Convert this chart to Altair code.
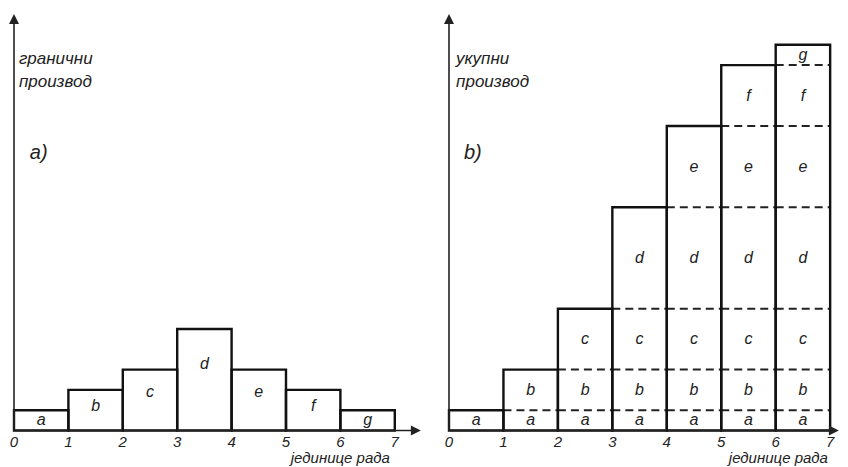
import altair as alt
import pandas as pd
import numpy as np

# ---- data ----
letters = ["a", "b", "c", "d", "e", "f", "g"]
marginal_a = [1, 2, 3, 5, 3, 2, 1]          # panel a) bar heights
increments_b = [1, 2, 3, 5, 4, 3, 1]        # panel b) stacked increments
tick_labels = ["0", "1", "2", "3", "4", "5", "6", "7"]
y_title_a = ["гранични", "производ"]
y_title_b = ["укупни", "производ"]
x_title = "јединице рада"
panel_tags = ["а)", "b)"]

FONT = "Liberation Sans"
W_A, W_B, H = 416, 416, 459
Y_DOM = [-1.798, 20.813]
XA_DOM = [-0.1103, 7.537]
XB_DOM = [-0.4591, 7.181]


def sx(dom):
    return alt.Scale(domain=dom, nice=False, zero=False)


YS = alt.Scale(domain=Y_DOM, nice=False, zero=False)


def axes_layers(xdom, x_tip, title_lines, tag, tag_x, title_x, xt_right):
    X = lambda f: alt.X(f, scale=sx(xdom), axis=None)
    layers = []
    # y axis line
    layers.append(
        alt.Chart(pd.DataFrame({"a": [0]})).mark_rule(color="#222", strokeWidth=1.6).encode(
            x=alt.X("x:Q", scale=sx(xdom), axis=None),
            y=alt.Y("y0:Q", scale=YS, axis=None), y2="y1:Q"
        ).transform_calculate(x="0", y0="0", y1="20.3")
    )
    # x axis line
    layers.append(
        alt.Chart(pd.DataFrame({"a": [0]})).mark_rule(color="#222", strokeWidth=1.6).encode(
            x=alt.X("x0:Q", scale=sx(xdom), axis=None), x2="x1:Q",
            y=alt.Y("y:Q", scale=YS, axis=None)
        ).transform_calculate(x0="0", x1=str(x_tip - 0.15), y="0")
    )
    # arrowheads
    layers.append(
        alt.Chart(pd.DataFrame({"x": [0.0], "y": [20.52]})).mark_point(
            shape="M0,0 L-1,2 L1,2 Z", filled=True, size=100, opacity=1, color="#222", strokeWidth=0
        ).encode(x=X("x:Q"), y=alt.Y("y:Q", scale=YS, axis=None))
    )
    layers.append(
        alt.Chart(pd.DataFrame({"x": [x_tip], "y": [0.0]})).mark_point(
            shape="M0,0 L-2,-1 L-2,1 Z", filled=True, size=100, opacity=1, color="#222", strokeWidth=0
        ).encode(x=X("x:Q"), y=alt.Y("y:Q", scale=YS, axis=None))
    )
    # tick labels
    tdf = pd.DataFrame({"x": [float(t) for t in tick_labels], "t": tick_labels})
    layers.append(
        alt.Chart(tdf).mark_text(font=FONT, fontStyle="italic", fontSize=15, color="#222",
                                 baseline="middle", align="center").encode(
            x=X("x:Q"), y=alt.Y("y:Q", scale=YS, axis=None), text="t:N"
        ).transform_calculate(y="-0.56")
    )
    # x title
    layers.append(
        alt.Chart(pd.DataFrame({"x": [xt_right], "y": [-1.60], "t": [x_title]})).mark_text(
            font=FONT, fontStyle="italic", fontSize=15, color="#222", align="right",
            baseline="alphabetic"
        ).encode(x=X("x:Q"), y=alt.Y("y:Q", scale=YS, axis=None), text="t:N")
    )
    # y title (two lines)
    ydf = pd.DataFrame({"x": [title_x, title_x], "y": [18.3, 17.17], "t": title_lines})
    layers.append(
        alt.Chart(ydf).mark_text(font=FONT, fontStyle="italic", fontSize=17, color="#222",
                                 align="left", baseline="middle").encode(
            x=X("x:Q"), y=alt.Y("y:Q", scale=YS, axis=None), text="t:N"
        )
    )
    # panel tag
    layers.append(
        alt.Chart(pd.DataFrame({"x": [tag_x], "y": [13.65], "t": [tag]})).mark_text(
            font=FONT, fontStyle="italic", fontSize=20, color="#222", align="left", baseline="middle"
        ).encode(x=X("x:Q"), y=alt.Y("y:Q", scale=YS, axis=None), text="t:N")
    )
    return layers


# ---- panel a ----
df_a = pd.DataFrame({
    "x0": np.arange(7), "x1": np.arange(7) + 1,
    "v": marginal_a, "l": letters,
})
df_a["ly"] = 0.7 * df_a["v"] - 0.2
df_a["xm"] = df_a["x0"] + 0.5

bars_a = alt.Chart(df_a).mark_rect(fill="white", fillOpacity=0, stroke="#111", strokeWidth=2.4).encode(
    x=alt.X("x0:Q", scale=sx(XA_DOM), axis=None), x2="x1:Q",
    y=alt.Y("y0:Q", scale=YS, axis=None), y2="v:Q"
).transform_calculate(y0="0")

lab_a = alt.Chart(df_a).mark_text(font=FONT, fontStyle="italic", fontSize=16, color="#222",
                                  baseline="middle").encode(
    x=alt.X("xm:Q", scale=sx(XA_DOM), axis=None),
    y=alt.Y("ly:Q", scale=YS, axis=None), text="l:N"
)

panel_a = alt.layer(
    bars_a, lab_a,
    *axes_layers(XA_DOM, 7.48, y_title_a, panel_tags[0], 0.29, 0.09, 6.91)
).properties(width=W_A, height=H)

# ---- panel b ----
cum = np.cumsum(increments_b)
cols = pd.DataFrame({"x0": np.arange(7), "x1": np.arange(7) + 1, "top": cum})

seg_rows, dash_rows = [], []
for i in range(7):
    for j in range(i + 1):
        seg_rows.append({"xm": i + 0.5, "ym": cum[j] - increments_b[j] / 2, "l": letters[j]})
        if j < i:
            dash_rows.append({"x0": i, "x1": i + 1, "y": cum[j]})
segs = pd.DataFrame(seg_rows)
dashes = pd.DataFrame(dash_rows)

dash_b = alt.Chart(dashes).mark_rule(color="#222", strokeWidth=2, strokeDash=[8, 5]).encode(
    x=alt.X("x0:Q", scale=sx(XB_DOM), axis=None), x2="x1:Q",
    y=alt.Y("y:Q", scale=YS, axis=None)
)
cols_b = alt.Chart(cols).mark_rect(fill="white", fillOpacity=0, stroke="#111", strokeWidth=2.4).encode(
    x=alt.X("x0:Q", scale=sx(XB_DOM), axis=None), x2="x1:Q",
    y=alt.Y("y0:Q", scale=YS, axis=None), y2="top:Q"
).transform_calculate(y0="0")
lab_b = alt.Chart(segs).mark_text(font=FONT, fontStyle="italic", fontSize=16, color="#222",
                                  baseline="middle").encode(
    x=alt.X("xm:Q", scale=sx(XB_DOM), axis=None),
    y=alt.Y("ym:Q", scale=YS, axis=None), text="l:N"
)

panel_b = alt.layer(
    dash_b, cols_b, lab_b,
    *axes_layers(XB_DOM, 7.16, y_title_b, panel_tags[1], 0.275, 0.13, 6.96)
).properties(width=W_B, height=H)

chart = alt.hconcat(panel_a, panel_b, spacing=0).properties(
    padding=0, background="white"
).configure_view(stroke=None)

chart.save("out.html", embed_options={"renderer": "svg", "actions": False})
